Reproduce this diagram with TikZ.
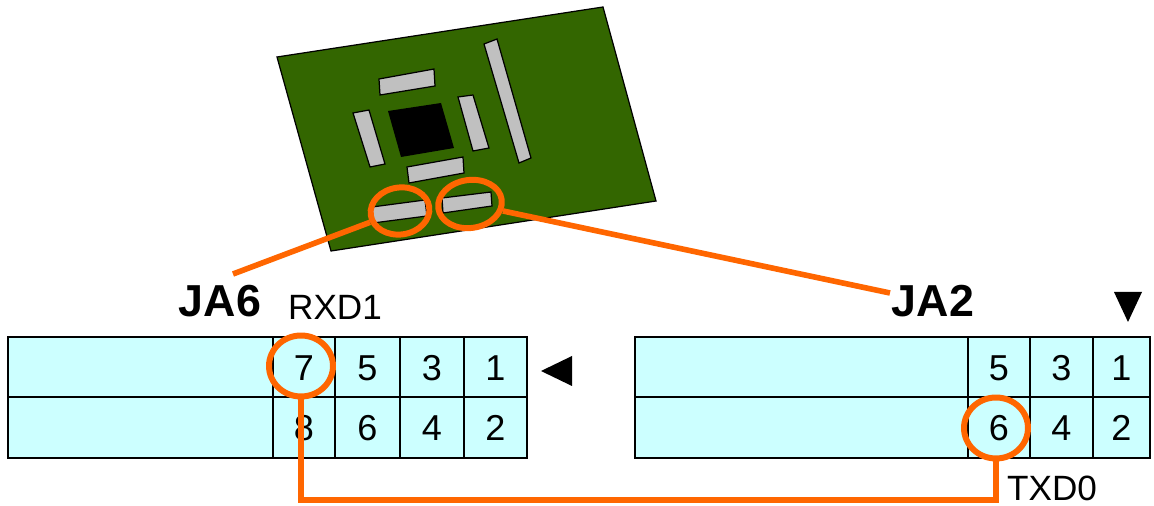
\documentclass[tikz,border=0pt]{standalone}
\usepackage{fontspec}
\setmainfont{Liberation Sans}
\usetikzlibrary{shapes.geometric}

\definecolor{boardgreen}{HTML}{336600}
\definecolor{partgray}{HTML}{C0C0C0}
\definecolor{pincyan}{HTML}{CCFFFF}
\definecolor{wireorange}{HTML}{FF6600}

\begin{document}
\begin{tikzpicture}[x=0.02cm, y=-0.02cm,
    part/.style={fill=partgray, draw=black, line width=0.7pt},
    pinbox/.style={fill=pincyan, draw=black, line width=0.8pt},
    pinnum/.style={inner sep=0pt, font=\fontsize{20.5}{24}\selectfont},
    hilite/.style={ellipse, draw=wireorange, line width=3.4pt, inner sep=0pt},
    wire/.style={draw=wireorange, line width=3.2pt},
    hdrname/.style={font=\fontsize{25.5}{30}\selectfont\bfseries},
    signame/.style={font=\fontsize{20}{24}\selectfont}]
  \useasboundingbox (0,0) rectangle (1154,506);

  % board
  \filldraw[fill=boardgreen, draw=black, line width=0.7pt]
    (277,57) -- (603,7) -- (656,201) -- (331,251) -- cycle;
  \draw[part] (379,79) -- (434,69) -- (435,86) -- (380,95) -- cycle;
  \draw[part] (353,113) -- (369,110) -- (385,164) -- (370,167) -- cycle;
  \fill[black] (388,111) -- (441,103) -- (454,148) -- (401,157) -- cycle;
  \draw[part] (458,97) -- (473,95) -- (489,148) -- (473,151) -- cycle;
  \draw[part] (484,44) -- (497,39) -- (531,158) -- (519,163) -- cycle;
  \draw[part] (407,167) -- (463,157) -- (464,173) -- (409,183) -- cycle;
  \draw[part] (372,207) -- (425,200) -- (427,216) -- (373,223) -- cycle;
  \draw[part] (442,198) -- (491,192) -- (492,206) -- (443,213) -- cycle;

  % JA6 header
  \draw[pinbox] (8,337) rectangle (273,397);
  \draw[pinbox] (8,397) rectangle (273,458);
  \foreach \xa/\xb/\na/\nb in {273/335/7/8, 335/400/5/6, 400/464/3/4, 464/527/1/2} {
    \draw[pinbox] (\xa,337) rectangle (\xb,397);
    \draw[pinbox] (\xa,397) rectangle (\xb,458);
    \node[pinnum] (L\na) at ({(\xa+\xb)/2},368) {\na};
    \node[pinnum] (L\nb) at ({(\xa+\xb)/2},428) {\nb};
  }
  \fill[black] (541,371) -- (572,356) -- (572,386) -- cycle;

  % JA2 header
  \draw[pinbox] (635,337) rectangle (968,397);
  \draw[pinbox] (635,397) rectangle (968,458);
  \foreach \xa/\xb/\na/\nb in {968/1030/5/6, 1030/1093/3/4, 1093/1150/1/2} {
    \draw[pinbox] (\xa,337) rectangle (\xb,397);
    \draw[pinbox] (\xa,397) rectangle (\xb,458);
    \node[pinnum] (R\na) at ({(\xa+\xb)/2},368) {\na};
    \node[pinnum] (R\nb) at ({(\xa+\xb)/2},428) {\nb};
  }
  \fill[black] (1114,292) -- (1142,292) -- (1128,322) -- cycle;

  % labels
  \node[hdrname] (ja6) at (220,301) {JA6};
  \node[signame] (rxd) at (335,307) {RXD1};
  \node[hdrname] (ja2) at (933,301) {JA2};
  \node[signame] (txd) at (1052,488) {TXD0};

  % connector highlights on the board
  \node[hilite, minimum width=1.18cm, minimum height=0.94cm, rotate=8] (conL) at (400,211) {};
  \node[hilite, minimum width=1.28cm, minimum height=0.96cm, rotate=8] (conR) at (470,204) {};
  \coordinate (ja6tip) at (233,274);
  \coordinate (ja2tip) at (890,293);
  \draw[wire] (conL) -- (ja6tip);
  \draw[wire] (conR) -- (ja2tip);

  % RXD1 -- TXD0 link
  \node[hilite, minimum width=1.28cm, minimum height=1.22cm] (c7) at (301,366) {};
  \node[hilite, minimum width=1.28cm, minimum height=1.22cm] (c6) at (996,428) {};
  \coordinate (bend) at (650,500);
  \draw[wire] (c7.south) |- (bend) -| (c6.south);
\end{tikzpicture}
\end{document}
